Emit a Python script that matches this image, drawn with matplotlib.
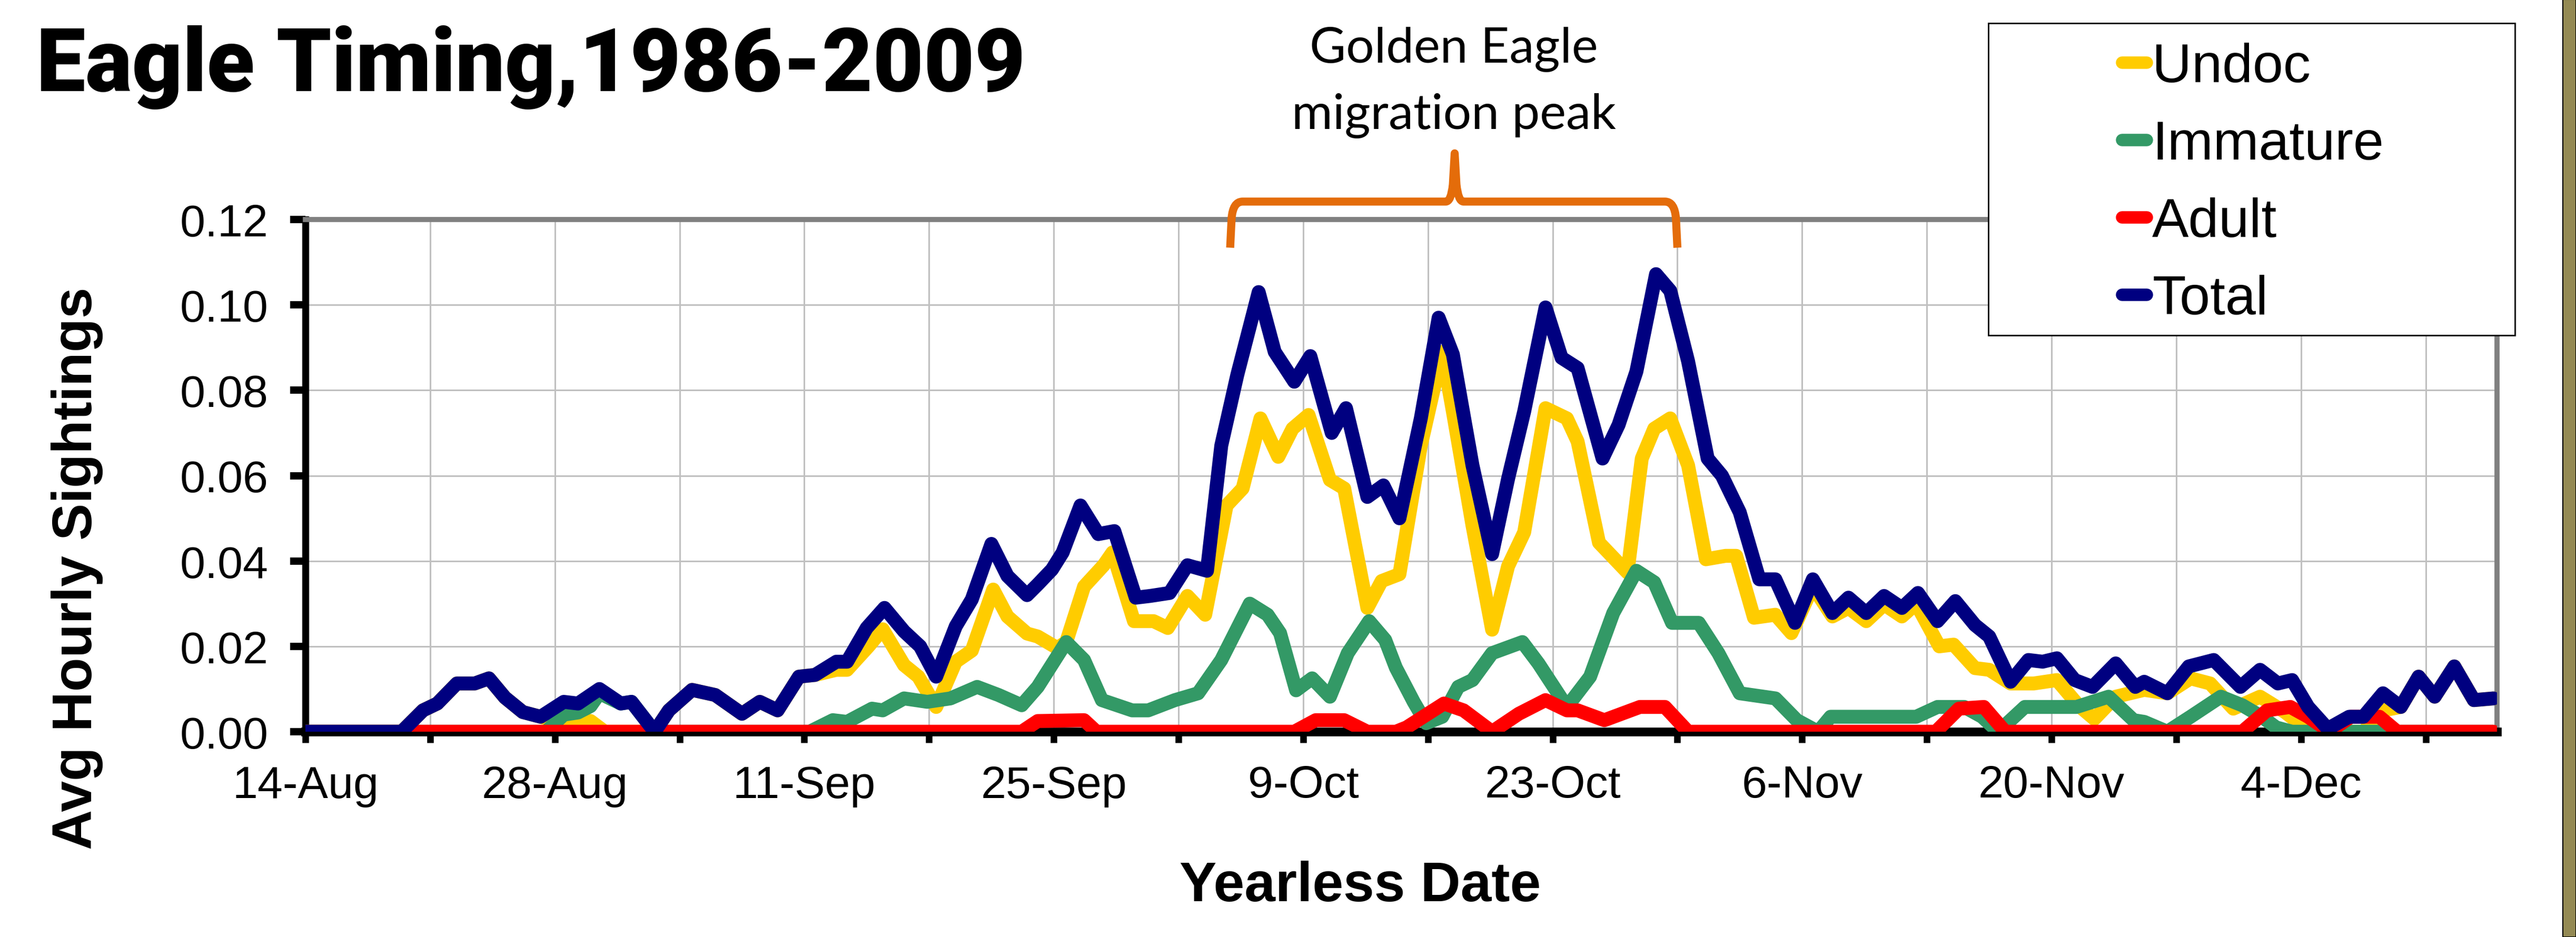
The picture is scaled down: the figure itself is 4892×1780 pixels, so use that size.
import matplotlib
matplotlib.use("Agg")
import matplotlib.pyplot as plt
from matplotlib.path import Path
from matplotlib.patches import PathPatch, Rectangle
from matplotlib.lines import Line2D
from matplotlib.ticker import FormatStrFormatter

# days counted from 14-Aug
total_days = [0, 5.4, 6.6, 7.4, 8.5, 9.5, 10.3, 11.2, 12.2, 13.2, 14.5, 15.3, 16.5, 17.7, 18.3, 19.6,
              20.4, 21.7, 23.0, 24.5, 25.5, 26.5, 27.7, 28.6, 29.8, 30.4, 31.5, 32.5, 33.6, 34.5, 35.4,
              36.5, 37.4, 38.5, 39.4, 40.5, 41.1, 41.9, 42.5, 43.5, 44.5, 45.4, 46.6, 47.4, 48.5, 49.5,
              50.6, 51.4, 52.3, 53.5, 54.4, 55.5, 56.4, 57.6, 58.4, 59.6, 60.5, 61.4, 62.6, 63.6, 64.4,
              65.5, 66.6, 67.5, 68.4, 69.6, 70.5, 71.4, 72.8, 73.7, 74.7, 75.8, 76.6, 77.6, 78.7, 79.5,
              80.5, 81.6, 82.5, 83.6, 84.6, 85.7, 86.6, 87.6, 88.6, 89.6, 90.5, 91.6, 92.6, 93.7, 94.5,
              95.7, 96.7, 97.5, 98.3, 99.3, 100.3, 101.6, 102.7, 103.2, 104.5, 105.7, 107.1, 108.6,
              109.7, 110.7, 111.5, 112.4, 113.5, 114.7, 115.5, 116.6, 117.6, 118.6, 119.5, 120.6,
              121.7, 122.8]
total_vals = [0, 0, 0.005, 0.0066, 0.0113, 0.0113, 0.0125, 0.008, 0.0046, 0.0035, 0.007, 0.0066, 0.010,
              0.0066, 0.007, 0.0, 0.005, 0.0098, 0.0086, 0.0042, 0.007, 0.005, 0.0129, 0.0133, 0.0164,
              0.0164, 0.0243, 0.029, 0.0235, 0.020, 0.0129, 0.0247, 0.031, 0.044, 0.0365, 0.032, 0.0345,
              0.038, 0.042, 0.053, 0.0463, 0.047, 0.0314, 0.0318, 0.0325, 0.039, 0.0377, 0.067, 0.0836,
              0.103, 0.089, 0.082, 0.088, 0.070, 0.0758, 0.055, 0.0577, 0.050, 0.0734, 0.097, 0.0884,
              0.0624, 0.0416, 0.0593, 0.075, 0.0994, 0.0876, 0.0852, 0.064, 0.0719, 0.0844, 0.1072,
              0.1033, 0.0868, 0.064, 0.060, 0.0514, 0.0357, 0.0357, 0.0255, 0.0357, 0.0278, 0.0314,
              0.0278, 0.0318, 0.029, 0.0325, 0.0259, 0.0306, 0.025, 0.0223, 0.0117, 0.0168, 0.0164,
              0.0172, 0.0121, 0.0105, 0.016, 0.0105, 0.0117, 0.009, 0.0153, 0.0168, 0.0105, 0.0145,
              0.0113, 0.0121, 0.0058, 0.0007, 0.0035, 0.0035, 0.009, 0.0058, 0.0129, 0.0082, 0.0153,
              0.0074, 0.0078]

undoc_days = [0, 5.4, 6.6, 7.4, 8.5, 9.5, 10.3, 11.2, 12.2, 13.2, 14.5, 15.3, 16.0, 16.8, 19.6, 20.4,
              21.7, 23.0, 24.5, 25.5, 26.5, 27.7, 28.6, 29.8, 30.4, 31.6, 32.4, 33.6, 34.4, 35.4, 36.5,
              37.4, 38.6, 39.4, 40.5, 41.1, 42.2, 42.7, 43.7, 44.8, 45.3, 46.5, 47.6, 48.4, 49.5, 50.5,
              51.7, 52.6, 53.6, 54.6, 55.4, 56.3, 57.5, 58.3, 59.6, 60.4, 61.4, 62.6, 63.8, 64.4, 65.5,
              66.6, 67.5, 68.4, 69.6, 70.8, 71.4, 72.6, 74.2, 75.0, 75.7, 76.6, 77.6, 78.6, 79.7, 80.3,
              81.3, 82.5, 83.4, 84.6, 85.7, 86.6, 87.6, 88.6, 89.6, 90.4, 91.7, 92.5, 93.7, 94.5, 95.7,
              97.0, 98.3, 99.5, 100.4, 101.6, 103.2, 104.5, 105.8, 106.9, 108.2, 109.7, 111.1, 111.9,
              113.5, 115.5, 116.6, 117.6, 118.6, 119.5, 120.6, 121.7, 122.8]
undoc_vals = [0, 0, 0.005, 0.0066, 0.0113, 0.0113, 0.0125, 0.008, 0.0046, 0.0035, 0.002, 0.003, 0.0025,
              0.0, 0.0, 0.005, 0.0098, 0.0086, 0.0042, 0.007, 0.005, 0.0129, 0.0133, 0.0145, 0.0145,
              0.020, 0.024, 0.0156, 0.0129, 0.0058, 0.0164, 0.019, 0.0333, 0.027, 0.023, 0.0223, 0.0196,
              0.021, 0.034, 0.039, 0.042, 0.0259, 0.0259, 0.0243, 0.0318, 0.0274, 0.053, 0.057, 0.0734,
              0.0644, 0.071, 0.0742, 0.059, 0.057, 0.029, 0.0353, 0.0369, 0.067, 0.089, 0.075, 0.0483,
              0.0239, 0.0388, 0.0467, 0.0758, 0.0734, 0.068, 0.0443, 0.0373, 0.064, 0.071, 0.0734,
              0.0624, 0.0404, 0.0412, 0.0412, 0.0267, 0.0274, 0.0231, 0.034, 0.027, 0.029, 0.0259,
              0.0298, 0.027, 0.030, 0.020, 0.0204, 0.0149, 0.0145, 0.0113, 0.0113, 0.0121, 0.0062,
              0.003, 0.0082, 0.0098, 0.009, 0.0125, 0.0113, 0.0054, 0.0082, 0.0046, 0.002, 0.0, 0.0,
              0.005, 0.0058, 0.0129, 0.0082, 0.0153, 0.0074, 0.0078]

immature_days = [0, 13.5, 14.5, 15.3, 16.0, 16.5, 17.7, 18.3, 19.6, 28.3, 29.6, 30.4, 31.8, 32.4, 33.6,
                 34.9, 36.2, 37.7, 38.9, 40.2, 41.1, 42.7, 43.7, 44.7, 46.4, 47.3, 48.8, 50.1, 51.4,
                 53.0, 54.0, 54.7, 55.6, 56.5, 57.5, 58.5, 59.7, 60.6, 61.2, 62.2, 62.9, 63.8, 64.7,
                 65.5, 66.6, 68.3, 69.2, 70.8, 72.1, 73.4, 74.7, 75.7, 76.7, 78.2, 79.3, 80.5, 82.5,
                 83.7, 84.9, 85.6, 90.4, 91.6, 93.1, 94.1, 95.0, 96.5, 99.4, 101.2, 102.6, 103.2, 104.5,
                 105.8, 107.5, 108.7, 109.8, 110.6, 111.5, 122.8]
immature_vals = [0, 0, 0.004, 0.0045, 0.006, 0.009, 0.0066, 0.007, 0.0, 0.0, 0.0027, 0.0023, 0.0054,
                 0.005, 0.0078, 0.007, 0.0078, 0.0105, 0.0086, 0.0062, 0.0105, 0.021, 0.0168, 0.0074,
                 0.005, 0.005, 0.0074, 0.009, 0.0168, 0.030, 0.0274, 0.0231, 0.0097, 0.0125, 0.0082,
                 0.0184, 0.0259, 0.0215, 0.015, 0.007, 0.002, 0.0035, 0.0105, 0.0121, 0.0184, 0.021,
                 0.016, 0.0058, 0.0129, 0.0278, 0.0377, 0.035, 0.0255, 0.0255, 0.0184, 0.009, 0.0078,
                 0.0027, 0.0, 0.0035, 0.0035, 0.0058, 0.0058, 0.0035, 0.0, 0.0058, 0.0058, 0.0082,
                 0.0027, 0.0023, 0.0, 0.0035, 0.0082, 0.0062, 0.0035, 0.001, 0.0, 0.0]

adult_days = [0, 40.2, 41.1, 43.7, 44.4, 55.5, 56.7, 58.3, 59.6, 61.2, 61.8, 63.9, 65.0, 66.6, 68.1,
              69.6, 70.8, 71.4, 72.9, 74.9, 76.3, 77.6, 91.5, 92.8, 94.2, 95.4, 108.7, 110.1, 111.4,
              112.4, 113.6, 114.8, 116.4, 117.4, 122.8]
adult_vals = [0, 0, 0.0025, 0.0027, 0, 0, 0.0027, 0.0027, 0, 0, 0.001, 0.0066, 0.005, 0, 0.0042,
              0.0074, 0.005, 0.005, 0.0027, 0.0058, 0.0058, 0, 0, 0.0054, 0.0058, 0, 0, 0.005, 0.0058,
              0.0035, 0, 0.0035, 0.0035, 0, 0]

tick_days = list(range(0, 120, 7))
tick_names = ["14-Aug", "", "28-Aug", "", "11-Sep", "", "25-Sep", "", "9-Oct", "", "23-Oct", "",
              "6-Nov", "", "20-Nov", "", "4-Dec", ""]

series = [
    ("Undoc", undoc_days, undoc_vals, "#FFCC00"),
    ("Immature", immature_days, immature_vals, "#339966"),
    ("Adult", adult_days, adult_vals, "#FF0000"),
    ("Total", total_days, total_vals, "#000080"),
]

W, H = 4892, 1781
fig = plt.figure(figsize=(W / 100, H / 100), dpi=100)
fig.patch.set_facecolor("white")
ax = fig.add_axes([580 / W, 1 - 1391 / H, (4742 - 580) / W, (1391 - 418) / H])

sans = ["Liberation Sans", "DejaVu Sans"]

for name, d, v, c in series:
    ax.plot(d, v, color=c, lw=19, solid_joinstyle="round", solid_capstyle="round", zorder=3)

ax.set_xlim(0, 123)
ax.set_ylim(0, 0.12)
ax.set_xticks(tick_days)
ax.set_xticklabels(tick_names, family=sans, fontsize=62)
ax.set_yticks([0, 0.02, 0.04, 0.06, 0.08, 0.10, 0.12])
ax.yaxis.set_major_formatter(FormatStrFormatter("%.2f"))
for lab in ax.get_yticklabels():
    lab.set_family(sans)
    lab.set_fontsize(62)
ax.tick_params(axis="y", direction="out", length=21, width=10, pad=30, color="black")
ax.tick_params(axis="x", direction="out", length=15, width=9, pad=30, color="black")
ax.grid(True, color="#C0C0C0", lw=2.2, zorder=1)
ax.set_axisbelow(True)

ax.spines["left"].set_color("black")
ax.spines["left"].set_linewidth(9.5)
ax.spines["bottom"].set_color("black")
ax.spines["bottom"].set_linewidth(12)
ax.spines["top"].set_color("#808080")
ax.spines["top"].set_linewidth(7)
ax.spines["right"].set_color("#808080")
ax.spines["right"].set_linewidth(7)

# orange brace above the peak period
bl, bm, br = 51.9, 64.5, 77.0
y_end, y_bar, y_tip = 0.1134, 0.1242, 0.1355
verts = [(bl, y_end), (bl + 0.08, y_bar - 0.004), (bl + 0.15, y_bar), (bl + 0.7, y_bar),
         (bm - 0.5, y_bar), (bm - 0.2, y_bar), (bm - 0.1, y_bar + 0.004), (bm, y_tip),
         (bm + 0.1, y_bar + 0.004), (bm + 0.2, y_bar), (bm + 0.5, y_bar),
         (br - 0.7, y_bar), (br - 0.15, y_bar), (br - 0.08, y_bar - 0.004), (br, y_end)]
codes = [Path.MOVETO, Path.LINETO, Path.CURVE3, Path.CURVE3,
         Path.LINETO, Path.CURVE3, Path.CURVE3, Path.LINETO,
         Path.LINETO, Path.CURVE3, Path.CURVE3,
         Path.LINETO, Path.CURVE3, Path.CURVE3, Path.LINETO]
ax.add_patch(PathPatch(Path(verts, codes), fill=False, edgecolor="#E46C0A", lw=11,
                       clip_on=False, zorder=4, capstyle="butt", joinstyle="round"))

fig.text(2761 / W, 1 - 119 / H, "Golden Eagle", ha="center", va="baseline",
         fontsize=68, family=["Lato", "DejaVu Sans"])
fig.text(2761 / W, 1 - 245 / H, "migration peak", ha="center", va="baseline",
         fontsize=68, family=["Lato", "DejaVu Sans"])

fig.text(69 / W, 1 - 48 / H, "Eagle Timing,1986-2009", ha="left", va="top",
         fontsize=120, fontweight="black", family=["Roboto", "DejaVu Sans"])
fig.text(147 / W, 1 - 1080 / H, "Avg Hourly Sightings", rotation=90, ha="center", va="center",
         fontsize=76, fontweight="bold", family=sans)
fig.text(2583 / W, 1 - 1685 / H, "Yearless Date", ha="center", va="center",
         fontsize=76, fontweight="bold", family=sans)

# legend box
fig.patches.append(Rectangle((3776 / W, 1 - 638 / H), 1000 / W, 593 / H, transform=fig.transFigure,
                             facecolor="white", edgecolor="black", lw=2, zorder=4))
handles = [Line2D([], [], color=c, lw=17, solid_capstyle="round") for _, _, _, c in series]
fig.legend(handles, [s[0] for s in series], loc="upper left",
           bbox_to_anchor=(4030 / W, 1 - 81 / H), frameon=False, borderpad=0, borderaxespad=0,
           handlelength=0.45, handletextpad=0.1, labelspacing=0.48,
           prop={"family": sans, "size": 75})

# right edge strip
fig.patches.append(Rectangle((4867 / W, 0), 1 - 4867 / W, 1, transform=fig.transFigure,
                             facecolor="#948A54", edgecolor="black", lw=1.5, zorder=5))

fig.savefig("out.png", dpi=100)
